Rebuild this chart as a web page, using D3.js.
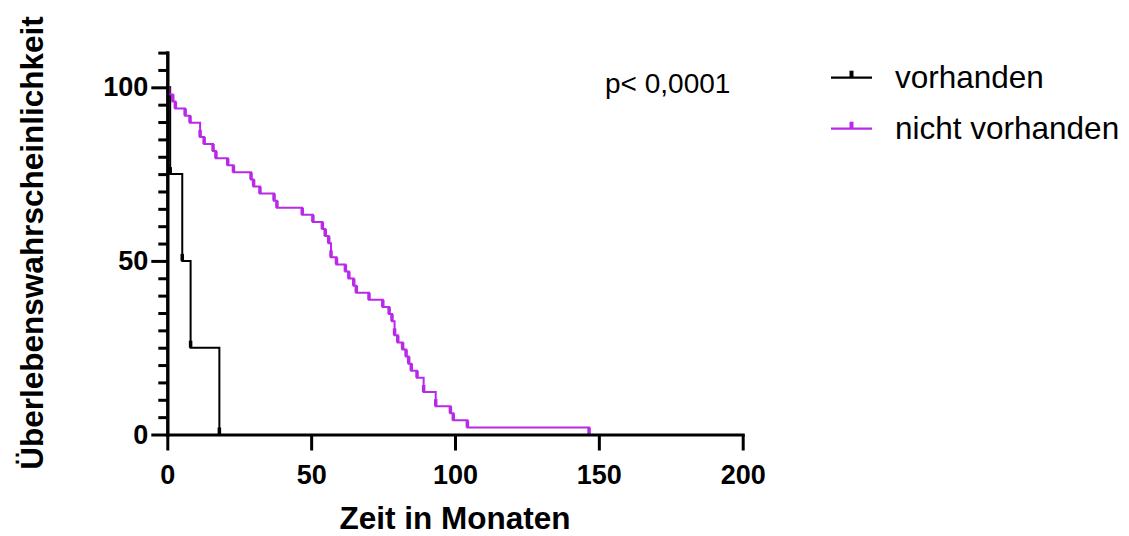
<!DOCTYPE html>
<html>
<head>
<meta charset="utf-8">
<script src="https://cdn.jsdelivr.net/npm/d3@7"></script>
<style>
  html, body { margin: 0; padding: 0; background: #fff; }
  svg { display: block; font-family: "Liberation Sans", Arial, sans-serif; }
</style>
</head>
<body>
<svg id="chart" width="1129" height="536"></svg>
<script>
// Kaplan-Meier survival data (months, survival in %)
const seriesNames = ["vorhanden", "nicht vorhanden"];
const seriesColors = ["#000000", "#B92AE8"];

const vorhandenMonths   = [1.0, 5.2, 8.1, 18.1];
const vorhandenSurvival = [75, 50, 25, 0];

const nichtMonths = [0.5, 1.9, 2.8, 6.2, 7.9, 11.4, 12.8, 15.9, 16.9, 21.0,
                     23.0, 29.1, 30.0, 32.2, 37.1, 38.1, 46.9, 50.6, 53.9, 54.9,
                     56.1, 56.9, 58.8, 61.9, 63.1, 64.8, 65.7, 70.1, 74.9, 77.1,
                     78.1, 79.0, 80.1, 81.8, 83.0, 83.9, 84.8, 86.8, 89.1, 93.3,
                     98.4, 99.4, 104.3, 146.6];
const nichtSurvival = [97.96, 95.92, 93.88, 91.84, 89.80, 85.71, 83.67, 81.63, 79.59, 77.55,
                       75.51, 73.47, 71.43, 69.39, 67.35, 65.31, 63.27, 61.22, 59.18, 57.14,
                       55.10, 51.02, 48.98, 46.94, 44.90, 42.86, 40.82, 38.78, 36.73, 34.69,
                       32.65, 28.57, 26.53, 24.49, 22.45, 20.41, 18.37, 16.33, 12.24, 8.16,
                       6.12, 4.08, 2.04, 0];

const xTicks = [0, 50, 100, 150, 200];
const yTicks = [0, 50, 100];
const yMinorTicks = [5, 10, 15, 20, 25, 30, 35, 40, 45, 55, 60, 65, 70, 75, 80, 85, 90, 95, 105, 110];

const pValueLabel = "p< 0,0001";
const xTitle = "Zeit in Monaten";
const yTitle = "Überlebenswahrscheinlichkeit";

const svg = d3.select("#chart");

const x = d3.scaleLinear().domain([0, 200]).range([167.3, 742.7]);
const y = d3.scaleLinear().domain([0, 110]).range([434.5, 52.6]);

const FONT = '"Liberation Sans", Arial, sans-serif';

// ---- curves ----
const step = d3.line()
  .x(d => x(d[0]))
  .y(d => y(d[1]))
  .curve(d3.curveStepAfter);

const series = [
  { months: vorhandenMonths, surv: vorhandenSurvival, color: seriesColors[0] },
  { months: nichtMonths,     surv: nichtSurvival,     color: seriesColors[1] }
];

const plot = svg.append("g");
series.forEach(s => {
  const pts = [[0, 100]].concat(s.months.map((m, i) => [m, s.surv[i]]));
  plot.append("path")
    .attr("d", step(pts))
    .attr("fill", "none")
    .attr("stroke", s.color)
    .attr("stroke-width", 2);
  // marks at each step
  plot.selectAll(null)
    .data(s.months.map((m, i) => [m, s.surv[i]]))
    .join("line")
    .attr("x1", d => x(d[0])).attr("x2", d => x(d[0]))
    .attr("y1", d => y(d[1])).attr("y2", d => y(d[1]) - 7)
    .attr("stroke", s.color)
    .attr("stroke-width", 3.5);
});

// ---- axes ----
function styleAxis(g, fontSize) {
  g.select(".domain").attr("stroke", "#000").attr("stroke-width", 3).attr("stroke-linecap", "square");
  g.selectAll(".tick line").attr("stroke", "#000").attr("stroke-width", 3);
  g.selectAll(".tick text")
    .attr("fill", "#000")
    .attr("font-family", FONT)
    .attr("font-weight", "bold")
    .attr("font-size", fontSize);
}

const xAxis = svg.append("g")
  .attr("transform", `translate(0,${y(0)})`)
  .call(d3.axisBottom(x).tickValues(xTicks).tickSize(16).tickSizeOuter(0).tickPadding(14).tickFormat(d3.format("d")));
styleAxis(xAxis, 27);

const yMinor = svg.append("g")
  .attr("transform", `translate(${x(0)},0)`)
  .call(d3.axisLeft(y).tickValues(yMinorTicks).tickSize(9).tickSizeOuter(0).tickFormat(""));
styleAxis(yMinor, 27);

const yAxis = svg.append("g")
  .attr("transform", `translate(${x(0)},0)`)
  .call(d3.axisLeft(y).tickValues(yTicks).tickSize(16).tickSizeOuter(0).tickPadding(3).tickFormat(d3.format("d")));
styleAxis(yAxis, 27);

// ---- titles ----
svg.append("text")
  .attr("x", (x(0) + x(200)) / 2)
  .attr("y", 529)
  .attr("text-anchor", "middle")
  .attr("font-family", FONT)
  .attr("font-weight", "bold")
  .attr("font-size", 31.5)
  .text(xTitle);

svg.append("text")
  .attr("transform", "translate(43,243) rotate(-90)")
  .attr("text-anchor", "middle")
  .attr("font-family", FONT)
  .attr("font-weight", "bold")
  .attr("font-size", 31.5)
  .text(yTitle);

svg.append("text")
  .attr("x", 605)
  .attr("y", 93)
  .attr("font-family", FONT)
  .attr("font-size", 28)
  .text(pValueLabel);

// ---- legend ----
const legend = svg.append("g");
seriesNames.forEach((name, i) => {
  const ly = 77.7 + i * 51;
  legend.append("line")
    .attr("x1", 831).attr("x2", 872)
    .attr("y1", ly).attr("y2", ly)
    .attr("stroke", seriesColors[i]).attr("stroke-width", 2.2);
  legend.append("line")
    .attr("x1", 851.5).attr("x2", 851.5)
    .attr("y1", ly).attr("y2", ly - 7)
    .attr("stroke", seriesColors[i]).attr("stroke-width", 4);
  legend.append("text")
    .attr("x", 895)
    .attr("y", ly + 10.7)
    .attr("font-family", FONT)
    .attr("font-size", 31.5)
    .attr("fill", "#000")
    .text(name);
});
</script>
</body>
</html>
